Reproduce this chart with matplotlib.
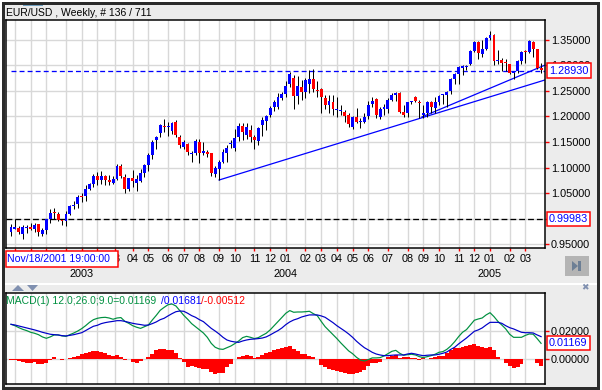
import matplotlib
matplotlib.use("Agg")
import matplotlib.pyplot as plt
from matplotlib.patches import Rectangle, Polygon
from matplotlib.transforms import blended_transform_factory

plt.rcParams['font.family'] = ['Liberation Sans', 'DejaVu Sans']

W, H = 602, 390

opens = [.974,.980,.982,.971,.981,.984,.979,.989,.971,.977,1.000,1.012,1.010,.997,.995,1.010,1.024,1.028,1.043,1.044,
         1.059,1.067,1.083,1.076,1.083,1.076,1.070,1.077,1.102,1.081,1.059,1.079,1.070,1.073,1.090,1.104,1.124,1.154,1.167,1.182,
         1.180,1.172,1.189,1.159,1.141,1.146,1.127,1.128,1.150,1.129,1.130,1.128,1.087,1.098,1.111,1.129,1.146,1.139,1.160,1.181,
         1.163,1.173,1.159,1.152,1.183,1.191,1.202,1.219,1.219,1.235,1.243,1.263,1.275,1.240,1.257,1.248,1.264,1.273,1.251,1.253,
         1.236,1.222,1.228,1.212,1.2095,1.208,1.202,1.179,1.199,1.188,1.189,1.201,1.224,1.234,1.199,1.214,1.215,1.232,1.242,1.246,
         1.209,1.206,1.227,1.238,1.226,1.2025,1.206,1.228,1.217,1.2285,1.2413,1.2415,1.249,1.273,1.2825,1.2935,1.2965,1.302,1.3275,1.346,
         1.3215,1.331,1.352,1.359,1.3075,1.31,1.3035,1.302,1.285,1.288,1.308,1.326,1.326,1.346,1.331,1.295]
highs = [.990,1.000,.986,.988,.987,.991,.992,.990,.982,1.000,1.018,1.020,1.014,1.000,1.016,1.026,1.034,1.046,1.051,1.065,
         1.070,1.087,1.091,1.094,1.086,1.085,1.083,1.107,1.107,1.087,1.080,1.096,1.085,1.098,1.107,1.128,1.153,1.161,1.185,1.195,
         1.189,1.189,1.193,1.163,1.153,1.148,1.133,1.155,1.155,1.150,1.134,1.128,1.103,1.115,1.136,1.144,1.154,1.176,1.186,1.186,
         1.186,1.183,1.163,1.180,1.199,1.202,1.220,1.232,1.245,1.248,1.268,1.287,1.281,1.279,1.271,1.274,1.290,1.292,1.268,1.255,
         1.242,1.242,1.242,1.238,1.222,1.212,1.206,1.201,1.217,1.196,1.207,1.229,1.237,1.235,1.219,1.225,1.235,1.245,1.248,1.248,
         1.222,1.2285,1.229,1.240,1.232,1.222,1.229,1.229,1.238,1.2415,1.2435,1.250,1.275,1.285,1.299,1.301,1.300,1.329,1.348,1.347,
         1.349,1.3555,1.3665,1.360,1.329,1.313,1.311,1.303,1.289,1.310,1.3275,1.329,1.349,1.3475,1.331,1.305]
lows = [.967,.979,.971,.960,.972,.977,.974,.967,.967,.971,.991,1.000,.995,.987,.985,1.008,1.019,1.021,1.033,1.035,
        1.057,1.062,1.065,1.067,1.065,1.066,1.068,1.075,1.080,1.050,1.055,1.062,1.055,1.072,1.081,1.094,1.117,1.137,1.160,1.170,
        1.161,1.165,1.160,1.139,1.137,1.124,1.111,1.125,1.108,1.124,1.121,1.083,1.081,1.075,1.108,1.111,1.139,1.132,1.152,1.154,
        1.155,1.150,1.137,1.143,1.161,1.173,1.199,1.211,1.215,1.232,1.238,1.258,1.215,1.225,1.232,1.235,1.246,1.248,1.238,1.206,
        1.215,1.206,1.202,1.199,1.202,1.189,1.180,1.175,1.186,1.178,1.186,1.194,1.219,1.196,1.195,1.202,1.206,1.229,1.229,1.206,
        1.199,1.198,1.225,1.2285,1.196,1.196,1.199,1.206,1.206,1.222,1.225,1.219,1.243,1.264,1.264,1.2805,1.290,1.300,1.326,1.312,
        1.315,1.329,1.349,1.300,1.303,1.289,1.289,1.2825,1.272,1.284,1.303,1.305,1.323,1.316,1.292,1.285]
closes = [.983,.983,.974,.983,.982,.979,.987,.974,.978,.999,1.012,1.011,.998,.995,1.010,1.024,1.027,1.042,1.042,1.059,
          1.067,1.083,1.076,1.083,1.076,1.071,1.078,1.102,1.083,1.059,1.080,1.073,1.077,1.089,1.104,1.124,1.150,1.159,1.183,1.180,
          1.181,1.187,1.163,1.143,1.149,1.130,1.128,1.152,1.128,1.133,1.126,1.089,1.100,1.111,1.131,1.138,1.148,1.157,1.181,1.170,
          1.180,1.159,1.154,1.178,1.193,1.201,1.217,1.228,1.237,1.243,1.259,1.283,1.240,1.259,1.248,1.271,1.272,1.253,1.250,1.238,
          1.223,1.230,1.214,1.214,1.2098,1.201,1.185,1.199,1.189,1.189,1.199,1.222,1.229,1.202,1.214,1.218,1.232,1.242,1.246,1.209,
          1.202,1.228,1.2275,1.230,1.2255,1.2057,1.228,1.219,1.228,1.240,1.2415,1.248,1.273,1.2825,1.296,1.299,1.297,1.3275,1.346,1.323,
          1.331,1.3535,1.359,1.308,1.308,1.3047,1.3033,1.285,1.288,1.308,1.326,1.3248,1.3475,1.331,1.295,1.291]

macd_line = [.0250,.0240,.0226,.0214,.0205,.0193,.0186,.0176,.0160,.0150,.0160,.0174,.0174,.0167,.0164,.0176,.0188,.0202,.0219,.0240,
             .0264,.0283,.0293,.0298,.0300,.0295,.0286,.0295,.0298,.0271,.0257,.0240,.0229,.0221,.0233,.0245,.0281,.0314,.0350,.0371,
             .0390,.0395,.0381,.0348,.0314,.0286,.0255,.0233,.0212,.0188,.0157,.0114,.0086,.0074,.0071,.0083,.0095,.0112,.0131,.0155,
             .0164,.0157,.0148,.0155,.0171,.0186,.0210,.0240,.0269,.0300,.0329,.0348,.0336,.0338,.0338,.0340,.0343,.0326,.0312,.0271,
             .0233,.0205,.0176,.0148,.0117,.0088,.0060,.0040,.0014,-.0005,-.0012,-.0002,.0010,.0010,.0012,.0024,.0040,.0057,.0064,.0043,
             .0029,.0033,.0036,.0031,.0019,.0012,.0019,.0026,.0036,.0050,.0055,.0071,.0095,.0126,.0162,.0193,.0212,.0245,.0279,.0288,
             .0295,.0317,.0333,.0305,.0271,.0245,.0217,.0179,.0157,.0157,.0157,.0171,.0181,.0179,.0148,.0114]
signal_line = [.0250,.0245,.0238,.0231,.0224,.0217,.0210,.0202,.0193,.0186,.0179,.0176,.0174,.0169,.0167,.0171,.0176,.0183,.0190,.0205,
               .0221,.0236,.0243,.0255,.0262,.0267,.0271,.0276,.0276,.0271,.0264,.0257,.0252,.0248,.0243,.0245,.0255,.0267,.0283,.0293,
               .0310,.0326,.0340,.0345,.0343,.0329,.0312,.0300,.0283,.0269,.0245,.0221,.0202,.0181,.0157,.0138,.0129,.0124,.0121,.0131,
               .0138,.0143,.0145,.0148,.0152,.0160,.0174,.0190,.0205,.0224,.0248,.0267,.0281,.0290,.0302,.0310,.0317,.0317,.0317,.0310,
               .0300,.0281,.0262,.0240,.0221,.0202,.0181,.0157,.0129,.0105,.0083,.0067,.0050,.0038,.0031,.0026,.0026,.0029,.0031,.0031,
               .0031,.0038,.0043,.0038,.0031,.0026,.0029,.0031,.0031,.0036,.0043,.0052,.0071,.0086,.0110,.0131,.0152,.0176,.0200,.0210,
               .0224,.0245,.0264,.0264,.0264,.0257,.0240,.0226,.0217,.0205,.0193,.0190,.0190,.0188,.0174,.0162]
histogram = [-.0002,-.0005,-.0012,-.0021,-.0024,-.0024,-.0019,-.0031,-.0031,-.0024,-.0005,.0017,.0002,-.0007,0,.0010,.0017,.0024,.0038,.0048,
             .0055,.0060,.0060,.0052,.0043,.0033,.0026,.0031,.0014,-.0007,0,-.0017,-.0024,-.0012,.0002,.0017,.0038,.0067,.0074,.0071,
             .0069,.0067,.0048,.0007,-.0017,-.0052,-.0048,-.0057,-.0064,-.0069,-.0069,-.0088,-.0105,-.0100,-.0095,-.0057,-.0033,0,.0014,.0024,
             .0031,.0026,.0007,.0014,.0031,.0043,.0052,.0067,.0071,.0079,.0086,.0095,.0071,.0062,.0038,.0038,.0024,.0014,.0005,-.0040,
             -.0057,-.0067,-.0076,-.0086,-.0093,-.0098,-.0102,-.0102,-.0098,-.0088,-.0076,-.0048,-.0029,-.0024,-.0019,.0002,.0017,.0024,.0029,.0007,
             .0017,.0014,.0012,.0010,-.0002,.0007,.0005,.0012,.0019,.0024,.0026,.0043,.0067,.0081,.0083,.0086,.0093,.0105,.0110,.0095,
             .0086,.0083,.0088,.0067,.0019,.0005,-.0024,-.0048,-.0064,-.0052,-.0033,0,0,0,-.0029,-.0048]

# the first six month labels sit under the date box in the reference, so they stay blank
month_bars = [1,5,9,14,18,22,26.5,31,35,40,44,48,53,57,62,66,70,75,79,83,87,91,96,101,105,109,114,118,122,127,131]
month_labels = ['','','','','','','03','04','05','06','07','08','09','10','11','12',
                '01','02','03','04','05','06','07','08','09','10','11','12','01','02','03']
year_bars = [18, 70, 122]
year_labels = ['2003', '2004', '2005']
price_ticks = [0.95, 1.00, 1.05, 1.10, 1.15, 1.20, 1.25, 1.30, 1.35]
# 1.00000 is fully behind its value box
price_labels = ['0.95000', '', '1.05000', '1.10000', '1.15000', '1.20000', '1.25000', '1.30000', '1.35000']
macd_ticks = [0.0, 0.02]
last_price = 1.28930
level_price = 0.99983
last_macd = 0.01169
trend_low = ([53, 136], [1.0756, 1.271])
trend_high = ([104.7, 136], [1.199, 1.300])

PX = 0.72
FS = 7.8
GRID = '#d8d8d8'
GREEN = '#009040'
DARK = '#2b2b2b'
CHROME = '#ececec'

bars = list(range(len(closes)))
bar_min = -1.27
bar_max = 136.0


def px_axes(left, top, right, bottom, z):
    return fig.add_axes([left / W, 1 - bottom / H, (right - left) / W, (bottom - top) / H], zorder=z)


fig = plt.figure(figsize=(W / 100, H / 100), dpi=100, facecolor='white')

# window chrome, in pixels
bg = px_axes(0, 0, W, H, 0)
bg.set_xlim(0, W)
bg.set_ylim(H, 0)
bg.axis('off')
bg.add_patch(Rectangle((2, 2), 598, 388, fc=DARK, ec='none'))
bg.add_patch(Rectangle((5, 5), 592, 382, fc=CHROME, ec='none'))
bg.add_patch(Rectangle((5, 283), 592, 1.5, fc='white', ec='none'))
bg.add_patch(Rectangle((23, 5), 20, 1, fc='#6f9fc0', ec='none'))
bg.text(6, 13, 'EUR/USD , Weekly, # 136 / 711', fontsize=7.5, va='center', ha='left', color='black')
bg.add_patch(Polygon([(12, 291), (24, 291), (18, 285)], fc='#8090b0', ec='none'))
bg.add_patch(Polygon([(27, 285), (38, 285), (32.5, 291)], fc='#8090b0', ec='none'))
bg.text(584.5, 288, '✖', fontsize=6.5, color='#8090b0', ha='center', va='center', family='DejaVu Sans')
bg.add_patch(Rectangle((565, 256), 24, 20, fc='#b4b4b4', ec='none'))
bg.add_patch(Polygon([(572, 261), (578, 266), (572, 271)], fc='#6d7f95', ec='none'))
bg.add_patch(Rectangle((578, 261), 3, 10, fc='#6d7f95', ec='none'))

# price panel
ax = px_axes(6, 20, 545, 248, 2)
ax.set_xlim(bar_min, bar_max)
ax.set_ylim(0.9428, 1.3881)
ax.set_facecolor('white')
ax.set_xticks(month_bars, month_labels)
ax.set_yticks(price_ticks, price_labels)
ax.yaxis.tick_right()
ax.tick_params(axis='y', colors='red', length=3.2, width=1, labelcolor='black', labelsize=FS, pad=1)
ax.tick_params(axis='x', colors='red', length=2.2, width=1, labelcolor='black', labelsize=FS, pad=2)
ax.grid(True, color=GRID, lw=1.4 * PX)
ax.set_axisbelow(True)
for sp in ax.spines.values():
    sp.set_linewidth(1.5 * PX)

ax.plot([0, bar_max], [last_price, last_price], color='#0000ff', lw=PX * 1.3,
        dashes=(3.8, 2.4), dash_capstyle='butt', zorder=2)
ax.plot([bar_min, bar_max], [level_price, level_price], color='black', lw=PX * 1.3,
        dashes=(4.5, 2.3), dash_capstyle='butt', zorder=2)
ax.plot(trend_low[0], trend_low[1], color='#0000ff', lw=PX * 1.25, zorder=2.2)
ax.plot(trend_high[0], trend_high[1], color='#0000ff', lw=PX * 1.25, zorder=2.2)

ax.vlines(bars, lows, highs, colors='black', lw=PX, zorder=3, snap=True)
body_colors = ['#0000ff' if c >= o else '#ff0000' for o, c in zip(opens, closes)]
body_bottoms = [min(o, c) for o, c in zip(opens, closes)]
body_heights = [max(abs(c - o), 0.002) for o, c in zip(opens, closes)]
ax.bar(bars, body_heights, bottom=body_bottoms, width=0.74, color=body_colors, linewidth=0, zorder=4, antialiased=False)

right_edge = blended_transform_factory(ax.transAxes, ax.transData)
box = dict(fc='white', ec='#ff0000', lw=1.5 * PX, boxstyle='square,pad=0.2')
ax.text(1.0074, last_price, f'{last_price:.5f}', transform=right_edge, color='#0000ff', fontsize=FS,
        va='center', ha='left', bbox=box, zorder=10, clip_on=False)
ax.text(1.0074, level_price, f'{level_price:.5f}', transform=right_edge, color='#0000ff', fontsize=FS,
        va='center', ha='left', bbox=box, zorder=10, clip_on=False)

year_row = blended_transform_factory(ax.transData, ax.transAxes)
for b, lab in zip(year_bars, year_labels):
    ax.text(b, -0.114, lab, transform=year_row, fontsize=FS, ha='center', va='center', clip_on=False)

# macd panel
ax2 = px_axes(6, 293, 545, 384, 2)
ax2.set_xlim(bar_min, bar_max)
ax2.set_ylim(-0.01764, 0.04736)
ax2.set_facecolor('white')
ax2.set_xticks(month_bars)
ax2.set_yticks(macd_ticks, [f'{v:.5f}' for v in macd_ticks])
ax2.yaxis.tick_right()
ax2.tick_params(axis='y', colors='red', length=3.2, width=1, labelcolor='black', labelsize=FS, pad=1)
ax2.tick_params(axis='x', length=0, labelbottom=False)
ax2.grid(True, color=GRID, lw=1.4 * PX)
ax2.set_axisbelow(True)
for sp in ax2.spines.values():
    sp.set_linewidth(1.5 * PX)

ax2.bar(bars, histogram, width=1.02, color='#ff0000', linewidth=0, zorder=2, antialiased=False)
ax2.plot(bars, macd_line, color=GREEN, lw=PX * 1.2, zorder=3)
ax2.plot(bars, signal_line, color='#0000c8', lw=PX * 1.2, zorder=3)

right_edge2 = blended_transform_factory(ax2.transAxes, ax2.transData)
ax2.text(1.0074, last_macd, f'{last_macd:.5f}', transform=right_edge2, color='#0000ff', fontsize=FS,
         va='center', ha='left', bbox=box, zorder=10, clip_on=False)

# overlay texts, in pixels
top = px_axes(0, 0, W, H, 5)
top.set_xlim(0, W)
top.set_ylim(H, 0)
top.axis('off')
top.patch.set_alpha(0)
top.text(6, 300.5, 'MACD(1) 12.0;26.0;9.0=0.01169', color=GREEN, fontsize=7.45, va='center', ha='left')
top.text(161, 300.5, '/0.01681', color='#0000ff', fontsize=7.45, va='center', ha='left')
top.text(201, 300.5, '/-0.00512', color='#ff0000', fontsize=7.45, va='center', ha='left')
top.add_patch(Rectangle((5.5, 251), 112.5, 15.5, fc='white', ec='#ff0000', lw=1.5 * PX))
top.text(7, 259, 'Nov/18/2001 19:00:00', color='#0000ff', fontsize=7.6, va='center', ha='left')

fig.savefig('out.png', dpi=100, facecolor='white')
